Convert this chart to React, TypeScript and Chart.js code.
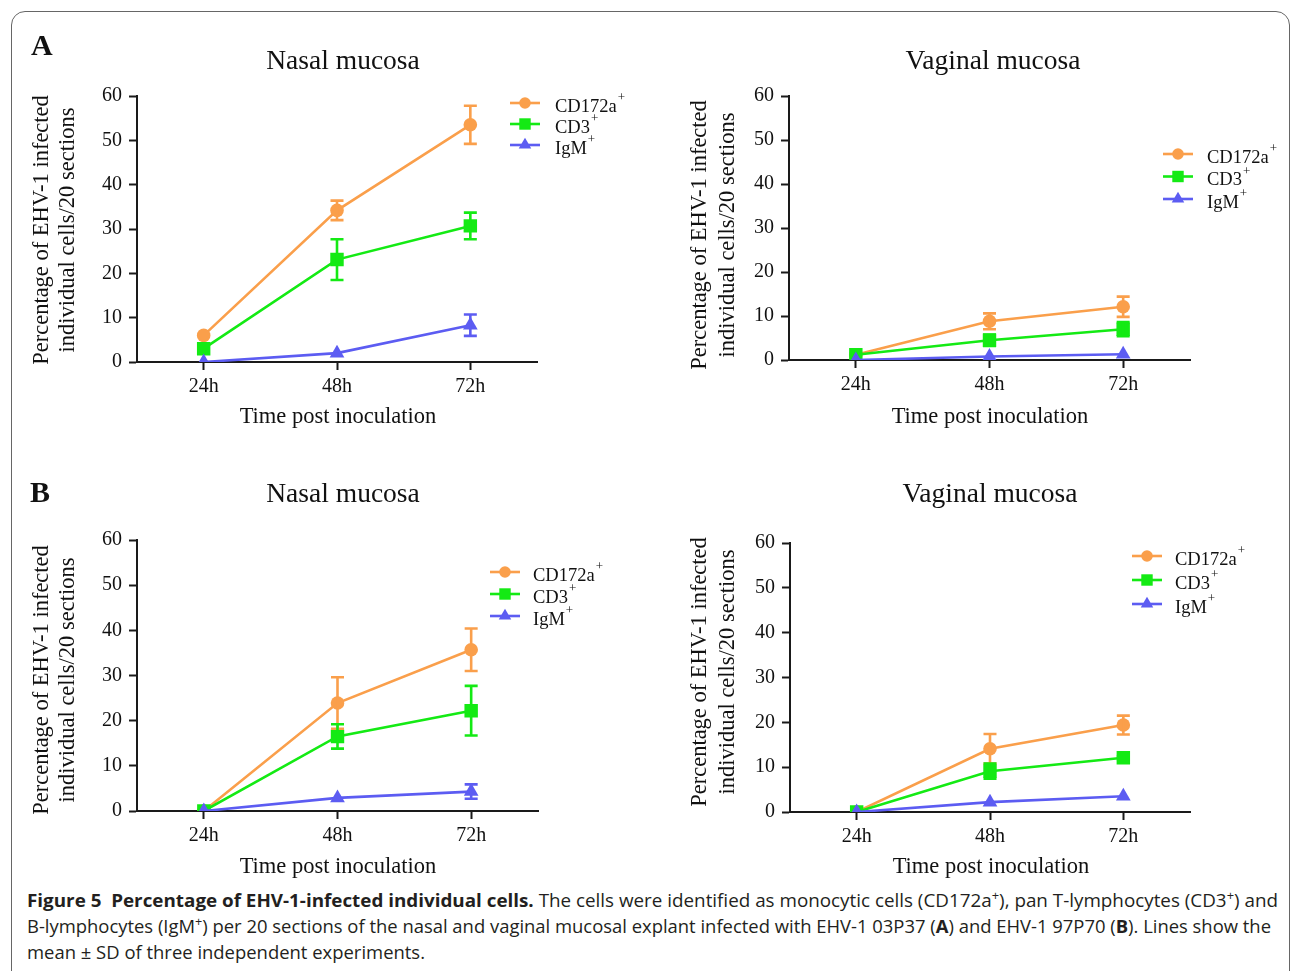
import React, { useEffect, useLayoutEffect, useRef } from "react";
import { Chart, registerables } from "chart.js";

Chart.register(...registerables);

// ---------- DATA ----------
const timeLabels = ["24h", "48h", "72h"];
const seriesNames = ["CD172a", "CD3", "IgM"];
const yTickMin = 0;
const yTickMax = 60;
const yTickStep = 10;

// A – Nasal mucosa (EHV-1 03P37)
const aNasalCD172a = [6.0, 34.2, 53.5];
const aNasalCD172aSD = [0, 2.2, 4.3];
const aNasalCD3 = [3.0, 23.1, 30.7];
const aNasalCD3SD = [0, 4.6, 3.0];
const aNasalIgM = [0.0, 2.0, 8.3];
const aNasalIgMSD = [0, 0, 2.4];

// A – Vaginal mucosa
const aVagCD172a = [1.2, 8.8, 12.1];
const aVagCD172aSD = [0, 1.8, 2.3];
const aVagCD3 = [1.2, 4.5, 7.0];
const aVagCD3SD = [0, 1.3, 1.6];
const aVagIgM = [0.0, 0.8, 1.3];
const aVagIgMSD = [0, 0, 0];

// B – Nasal mucosa (EHV-1 97P70)
const bNasalCD172a = [0.0, 23.9, 35.7];
const bNasalCD172aSD = [0, 5.7, 4.7];
const bNasalCD3 = [0.0, 16.5, 22.2];
const bNasalCD3SD = [0, 2.7, 5.5];
const bNasalIgM = [0.0, 2.9, 4.3];
const bNasalIgMSD = [0, 0, 1.6];

// B – Vaginal mucosa
const bVagCD172a = [0.0, 14.1, 19.4];
const bVagCD172aSD = [0, 3.3, 2.1];
const bVagCD3 = [0.0, 9.1, 12.1];
const bVagCD3SD = [0, 1.7, 0.3];
const bVagIgM = [0.0, 2.2, 3.5];
const bVagIgMSD = [0, 0, 0];

const yTitleLine1 = "Percentage of EHV-1 infected";
const yTitleLine2 = "individual cells/20 sections";
const xTitleText = "Time post inoculation";

// ---------- STYLES ----------
const SERIF = '"Liberation Serif", "Times New Roman", serif';
const INK = "#111111";
const SERIES_STYLE = [
  { color: "#FA9F4B", pointStyle: "circle", radius: 6.8 },
  { color: "#14EA14", pointStyle: "rect", radius: 9.5 },
  { color: "#5C5CF2", pointStyle: "triangle", radius: 8.5 },
];

type SeriesDef = { values: number[]; sd: number[] };
type PanelDef = {
  key: string;
  left: number;
  top: number;
  width: number;
  height: number;
  padTop: number;
  padRight: number;
  padBottom: number;
  yWidth: number;
  xHeight: number;
  title: string;
  titleX: number;
  titleY: number;
  yTitleX1: number;
  yTitleX2: number;
  yTitleY: number;
  xTitleX: number;
  xTitleY: number;
  legendX: number;
  legendTextX: number;
  legendY: number;
  legendDy: number;
  series: SeriesDef[];
};

const PANELS: PanelDef[] = [
  {
    key: "aNasal",
    left: 14, top: 30, width: 626, height: 410,
    padTop: 66, padRight: 103, padBottom: 48, yWidth: 123, xHeight: 30,
    title: "Nasal mucosa", titleX: 329, titleY: 32,
    yTitleX1: 28, yTitleX2: 54, yTitleY: 200,
    xTitleX: 324, xTitleY: 387,
    legendX: 511, legendTextX: 541, legendY: 73, legendDy: 21,
    series: [
      { values: aNasalCD172a, sd: aNasalCD172aSD },
      { values: aNasalCD3, sd: aNasalCD3SD },
      { values: aNasalIgM, sd: aNasalIgMSD },
    ],
  },
  {
    key: "aVag",
    left: 660, top: 30, width: 626, height: 410,
    padTop: 66, padRight: 96, padBottom: 50, yWidth: 129, xHeight: 30,
    title: "Vaginal mucosa", titleX: 333, titleY: 32,
    yTitleX1: 40, yTitleX2: 68, yTitleY: 205,
    xTitleX: 330, xTitleY: 387,
    legendX: 518, legendTextX: 547, legendY: 124, legendDy: 22.5,
    series: [
      { values: aVagCD172a, sd: aVagCD172aSD },
      { values: aVagCD3, sd: aVagCD3SD },
      { values: aVagIgM, sd: aVagIgMSD },
    ],
  },
  {
    key: "bNasal",
    left: 14, top: 470, width: 626, height: 410,
    padTop: 70, padRight: 102, padBottom: 39, yWidth: 123, xHeight: 30,
    title: "Nasal mucosa", titleX: 329, titleY: 25,
    yTitleX1: 28, yTitleX2: 54, yTitleY: 210,
    xTitleX: 324, xTitleY: 397,
    legendX: 491, legendTextX: 519, legendY: 102, legendDy: 22,
    series: [
      { values: bNasalCD172a, sd: bNasalCD172aSD },
      { values: bNasalCD3, sd: bNasalCD3SD },
      { values: bNasalIgM, sd: bNasalIgMSD },
    ],
  },
  {
    key: "bVag",
    left: 660, top: 470, width: 626, height: 410,
    padTop: 73, padRight: 96, padBottom: 38, yWidth: 130, xHeight: 30,
    title: "Vaginal mucosa", titleX: 330, titleY: 25,
    yTitleX1: 40, yTitleX2: 68, yTitleY: 202,
    xTitleX: 331, xTitleY: 397,
    legendX: 487, legendTextX: 515, legendY: 86, legendDy: 24,
    series: [
      { values: bVagCD172a, sd: bVagCD172aSD },
      { values: bVagCD3, sd: bVagCD3SD },
      { values: bVagIgM, sd: bVagIgMSD },
    ],
  },
];

function drawMarker(ctx: CanvasRenderingContext2D, style: string, r: number, x: number, y: number) {
  ctx.beginPath();
  if (style === "circle") {
    ctx.arc(x, y, r, 0, Math.PI * 2);
  } else if (style === "rect") {
    const s = Math.SQRT1_2 * r;
    ctx.rect(x - s, y - s, 2 * s, 2 * s);
  } else {
    const c = Math.cos(Math.PI / 6) * r;
    ctx.moveTo(x, y - r);
    ctx.lineTo(x + c, y + r / 2);
    ctx.lineTo(x - c, y + r / 2);
    ctx.closePath();
  }
  ctx.fill();
}

function ChartPanel({ p }: { p: PanelDef }) {
  const ref = useRef<HTMLCanvasElement | null>(null);

  useEffect(() => {
    const canvas = ref.current;
    if (!canvas) return;

    const errorBars = {
      id: "errorBars",
      afterDatasetsDraw(chart: any) {
        const ctx = chart.ctx as CanvasRenderingContext2D;
        const ys = chart.scales.y;
        chart.data.datasets.forEach((ds: any, i: number) => {
          const meta = chart.getDatasetMeta(i);
          ctx.save();
          ctx.strokeStyle = ds.borderColor;
          ctx.lineWidth = 2.6;
          meta.data.forEach((pt: any, j: number) => {
            const s = ds.sd[j];
            if (!s) return;
            const v = ds.data[j];
            const yt = ys.getPixelForValue(v + s);
            const yb = ys.getPixelForValue(v - s);
            const cw = 6.5;
            ctx.beginPath();
            ctx.moveTo(pt.x, yt);
            ctx.lineTo(pt.x, yb);
            ctx.moveTo(pt.x - cw, yt);
            ctx.lineTo(pt.x + cw, yt);
            ctx.moveTo(pt.x - cw, yb);
            ctx.lineTo(pt.x + cw, yb);
            ctx.stroke();
          });
          ctx.restore();
        });
      },
    };

    const panelTexts = {
      id: "panelTexts",
      afterDraw(chart: any) {
        const ctx = chart.ctx as CanvasRenderingContext2D;
        ctx.save();
        ctx.fillStyle = INK;
        ctx.textBaseline = "middle";
        ctx.textAlign = "center";
        // Title
        ctx.font = `27.5px ${SERIF}`;
        ctx.fillText(p.title, p.titleX, p.titleY);
        // X title
        ctx.font = `22.5px ${SERIF}`;
        ctx.fillText(xTitleText, p.xTitleX, p.xTitleY);
        // Y title (two lines, rotated)
        ctx.font = `22.5px ${SERIF}`;
        ctx.save();
        ctx.translate(p.yTitleX1, p.yTitleY);
        ctx.rotate(-Math.PI / 2);
        ctx.fillText(yTitleLine1, 0, 0);
        ctx.restore();
        ctx.save();
        ctx.translate(p.yTitleX2, p.yTitleY);
        ctx.rotate(-Math.PI / 2);
        ctx.fillText(yTitleLine2, 0, 0);
        ctx.restore();
        // Legend
        seriesNames.forEach((name, i) => {
          const st = SERIES_STYLE[i];
          const y = p.legendY + i * p.legendDy;
          ctx.strokeStyle = st.color;
          ctx.fillStyle = st.color;
          ctx.lineWidth = 2.6;
          ctx.beginPath();
          ctx.moveTo(p.legendX - 15, y);
          ctx.lineTo(p.legendX + 15, y);
          ctx.stroke();
          drawMarker(ctx, st.pointStyle, st.radius * 0.85, p.legendX, y);
          ctx.fillStyle = INK;
          ctx.textAlign = "left";
          ctx.font = `18.5px ${SERIF}`;
          ctx.fillText(name, p.legendTextX, y + 4);
          const w = ctx.measureText(name).width;
          ctx.font = `13px ${SERIF}`;
          ctx.fillText("+", p.legendTextX + w + 1, y - 5);
        });
        ctx.restore();
      },
    };

    const axisColor = "#1a1a1a";
    const chart = new Chart(canvas, {
      type: "line",
      data: {
        labels: timeLabels,
        datasets: p.series.map((s, i) => ({
          label: seriesNames[i],
          data: s.values,
          sd: s.sd,
          borderColor: SERIES_STYLE[i].color,
          backgroundColor: SERIES_STYLE[i].color,
          pointBackgroundColor: SERIES_STYLE[i].color,
          pointBorderColor: SERIES_STYLE[i].color,
          pointBorderWidth: 0,
          pointStyle: SERIES_STYLE[i].pointStyle,
          pointRadius: SERIES_STYLE[i].radius,
          borderWidth: 2.6,
          tension: 0,
          fill: false,
          order: 2 - i,
        })) as any,
      },
      options: {
        responsive: false,
        animation: false,
        events: [],
        layout: {
          padding: { left: 0, top: p.padTop, right: p.padRight, bottom: p.padBottom },
        },
        plugins: {
          legend: { display: false },
          title: { display: false },
          tooltip: { enabled: false },
        },
        scales: {
          x: {
            type: "category",
            offset: true,
            grid: {
              display: true,
              drawOnChartArea: false,
              drawTicks: true,
              tickLength: 8,
              tickWidth: 2,
              tickColor: axisColor,
              offset: false,
            },
            border: { display: true, color: axisColor, width: 2 },
            ticks: {
              color: INK,
              font: { family: SERIF, size: 20 },
              padding: 5,
              maxRotation: 0,
              autoSkip: false,
            },
            afterFit: (scale: any) => {
              scale.height = p.xHeight;
            },
          },
          y: {
            type: "linear",
            min: yTickMin,
            max: yTickMax,
            grid: {
              display: true,
              drawOnChartArea: false,
              drawTicks: true,
              tickLength: 8,
              tickWidth: 2,
              tickColor: axisColor,
            },
            border: { display: true, color: axisColor, width: 2 },
            ticks: {
              stepSize: yTickStep,
              color: INK,
              font: { family: SERIF, size: 20 },
              padding: 7,
            },
            afterFit: (scale: any) => {
              scale.width = p.yWidth;
            },
          },
        },
      } as any,
      plugins: [errorBars, panelTexts],
    });
    return () => chart.destroy();
  }, [p]);

  return (
    <canvas
      ref={ref}
      width={p.width}
      height={p.height}
      style={{ position: "absolute", left: p.left, top: p.top, width: p.width, height: p.height }}
    />
  );
}

const CAPTION_TARGETS = [1251, 1244, 398];

function Caption() {
  const refs = [useRef<HTMLSpanElement | null>(null), useRef<HTMLSpanElement | null>(null), useRef<HTMLSpanElement | null>(null)];
  useLayoutEffect(() => {
    const fit = () => {
      refs.forEach((r, i) => {
        const el = r.current;
        if (!el) return;
        el.style.transform = "none";
        const w = el.getBoundingClientRect().width;
        if (w > 0) el.style.transform = `scaleX(${CAPTION_TARGETS[i] / w})`;
      });
    };
    fit();
    if ((document as any).fonts && (document as any).fonts.ready) {
      (document as any).fonts.ready.then(fit);
    }
  }, []);
  const lineStyle: React.CSSProperties = {
    position: "absolute",
    left: 27,
    whiteSpace: "pre",
    transformOrigin: "left center",
    display: "inline-block",
    lineHeight: "24px",
  };
  const sup: React.CSSProperties = { fontSize: 12, position: "relative", top: -7, lineHeight: 0 };
  return (
    <div
      style={{
        position: "absolute",
        left: 0,
        top: 0,
        fontFamily: '"Open Sans", "Noto Sans", sans-serif',
        fontSize: 17.5,
        color: "#231f20",
      }}
    >
      <span ref={refs[0]} style={{ ...lineStyle, top: 888 }}>
        <b>Figure 5  Percentage of EHV-1-infected individual cells.</b> The cells were identified as monocytic cells (CD172a
        <span style={sup}>+</span>), pan T-lymphocytes (CD3<span style={sup}>+</span>) and
      </span>
      <span ref={refs[1]} style={{ ...lineStyle, top: 914 }}>
        B-lymphocytes (IgM<span style={sup}>+</span>) per 20 sections of the nasal and vaginal mucosal explant infected with EHV-1 03P37 (<b>A</b>) and EHV-1 97P70 (<b>B</b>). Lines show the
      </span>
      <span ref={refs[2]} style={{ ...lineStyle, top: 940 }}>
        mean ± SD of three independent experiments.
      </span>
    </div>
  );
}

export default function App() {
  return (
    <div
      style={{
        position: "absolute",
        left: 0,
        top: 0,
        width: 1290,
        height: 971,
        overflow: "hidden",
        background: "#ffffff",
      }}
    >
      <div
        style={{
          position: "absolute",
          left: 11,
          top: 11,
          width: 1277,
          height: 1000,
          border: "1px solid #666",
          borderRadius: 14,
          boxSizing: "content-box",
        }}
      />
      {PANELS.map((p) => (
        <ChartPanel key={p.key} p={p} />
      ))}
      <div
        style={{
          position: "absolute",
          left: 31,
          top: 29,
          fontFamily: SERIF,
          fontWeight: "bold",
          fontSize: 30,
          lineHeight: "32px",
          color: INK,
        }}
      >
        A
      </div>
      <div
        style={{
          position: "absolute",
          left: 30,
          top: 476,
          fontFamily: SERIF,
          fontWeight: "bold",
          fontSize: 30,
          lineHeight: "32px",
          color: INK,
        }}
      >
        B
      </div>
      <Caption />
    </div>
  );
}
